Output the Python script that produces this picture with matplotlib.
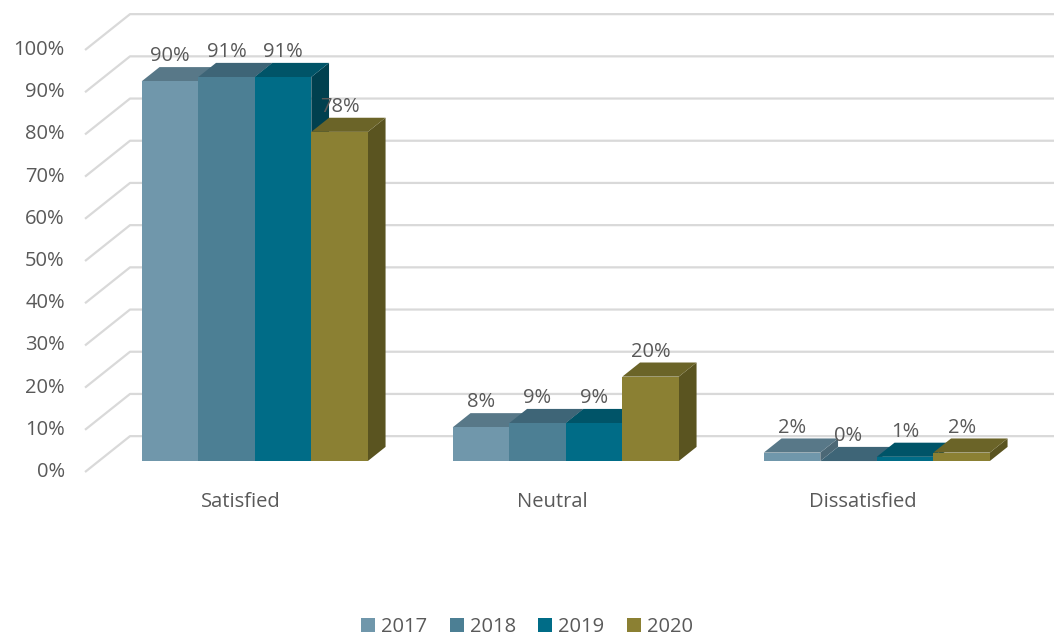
import matplotlib.pyplot as plt
from matplotlib.patches import Polygon, Patch

# Data
kategorie = ['Satisfied', 'Neutral', 'Dissatisfied']
roky = ['2017', '2018', '2019', '2020']
hodnoty = {
    '2017': [90, 8, 2],
    '2018': [91, 9, 0],
    '2019': [91, 9, 1],
    '2020': [78, 20, 2],
}
tick_hodnoty = list(range(0, 101, 10))

# barvy: predni stena, horni stena, bocni stena
barvy_predni = ['#7097ab', '#4c7f94', '#006c87', '#8b8033']
barvy_horni = ['#587888', '#3e6577', '#005468', '#6b6428']
barvy_bocni = ['#4c6876', '#33586a', '#00404f', '#5a5420']

# Oblique 3D projekce: z=0 predni okraj podlahy, z=1 zadni stena
kx = 0.1447   # posun v x (jednotky kategorii) pro z=1
ky = 8.5      # posun v y (procenta) pro z=1
z_pred = 0.306
z_zad = 0.70
sirka = 0.1817

def proj(x, v, z):
    return (x + z * kx, v + z * ky)

fig = plt.figure(figsize=(10.54, 6.39), dpi=100)
ax = fig.add_axes([0, 0, 1, 1])
ax.set_xlim(-0.775, 2.614)
ax.set_ylim(-39.57, 111.85)
ax.axis('off')

font = 'Open Sans'
seda_text = '#595959'
vel = 14.5
x_levy = -0.5016

# mrizka
for v in tick_hodnoty:
    p0 = proj(x_levy, v, 0)
    p1 = proj(x_levy, v, 1)
    ax.plot([p0[0], p1[0], 2.7], [p0[1], p1[1], p1[1]], color='#d9d9d9',
            lw=1.6, zorder=1, solid_capstyle='butt')
    ax.text(p0[0] - 0.065, p0[1], f'{v}%', ha='right', va='center',
            fontsize=vel, color=seda_text, family=font)

# sloupce
for i, kat in enumerate(kategorie):
    for j, rok in enumerate(roky):
        v = hodnoty[rok][i]
        xl = i + (j - 2) * sirka
        xr = xl + sirka
        zo = 2 + i * 10 + j
        predni = [proj(xl, 0, z_pred), proj(xr, 0, z_pred),
                  proj(xr, v, z_pred), proj(xl, v, z_pred)]
        horni = [proj(xl, v, z_pred), proj(xr, v, z_pred),
                 proj(xr, v, z_zad), proj(xl, v, z_zad)]
        bocni = [proj(xr, 0, z_pred), proj(xr, 0, z_zad),
                 proj(xr, v, z_zad), proj(xr, v, z_pred)]
        ax.add_patch(Polygon(bocni, closed=True, fc=barvy_bocni[j], ec='none', zorder=zo))
        ax.add_patch(Polygon(horni, closed=True, fc=barvy_horni[j], ec='none', zorder=zo))
        ax.add_patch(Polygon(predni, closed=True, fc=barvy_predni[j], ec='none', zorder=zo))
        tx, ty = proj(xl + sirka / 2, v, z_zad)
        ax.text(xl + sirka / 2 + z_pred * kx, ty + 0.2, f'{v}%', ha='center', va='bottom',
                fontsize=vel, color=seda_text, family=font, zorder=50)
    lx, ly = proj(i, -7.1, 0)
    ax.text(lx, ly, kat, ha='center', va='center', fontsize=vel,
            color=seda_text, family=font)

# legenda
handles = [Patch(facecolor=barvy_predni[j], edgecolor='none', label=rok)
           for j, rok in enumerate(roky)]
leg = fig.legend(handles=handles, loc='lower center', ncol=4, frameon=False,
                 bbox_to_anchor=(0.5, -0.025), handlelength=0.7,
                 handleheight=0.7, handletextpad=0.3, columnspacing=1.1,
                 prop={'family': font, 'size': vel})
for t in leg.get_texts():
    t.set_color(seda_text)

fig.savefig('out.png', dpi=100)
